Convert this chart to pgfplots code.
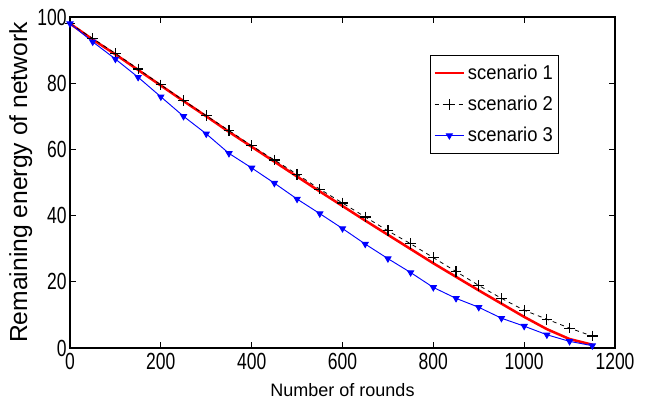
\documentclass[border=0pt]{standalone}
\usepackage{pgfplots}
\pgfplotsset{compat=1.18}
\usepackage{fontspec}
\setmainfont{Liberation Sans}
\newfontfamily\narrowfont{Liberation Sans}[FakeStretch=0.75]
\newfontfamily\legfont{Liberation Sans}[FakeStretch=0.92]
\pgfplotstableread{
x s1 s2 s3
0 98 98 98
50 93.2 93.5 92.5
100 88.7 89 87.3
150 84 84.3 81.8
200 79.3 79.5 75.9
250 74.6 74.8 70
300 70 70.2 64.7
350 65.3 65.7 58.8
400 60.8 61.1 54.4
450 56.3 56.8 49.8
500 51.8 52.5 45
550 47.3 48 40.6
600 42.9 43.8 36.1
650 38.5 39.6 31.4
700 34.2 35.4 27
750 29.9 31.5 22.8
800 25.6 27.3 18.3
850 21.5 23.1 15
900 17.4 18.9 12.3
950 13.4 15 9
1000 9.4 11.4 6.6
1050 5.7 8.7 4
1100 2.7 6 2
1150 1.0 3.6 0.7
}\datatable
\begin{document}
\begin{tikzpicture}[x=1pt,y=1pt]
\begin{axis}[
  name=ax,
  at={(0,0)}, anchor=south west,
  scale only axis,
  width=408.75pt, height=248.25pt,
  xmin=0, xmax=1200, ymin=0, ymax=100,
  xtick={0,200,...,1200}, ytick={0,20,...,100},
  tick align=inside,
  major tick length=4.5pt,
  axis line style={line width=0.8pt},
  every tick/.style={line width=0.6pt, black},
  tick label style={font=\narrowfont\fontsize{17.5}{17.5}\selectfont},
  /pgf/number format/assume math mode=true,
  /pgf/number format/1000 sep={},
  xticklabel style={yshift=0pt},
  yticklabel style={xshift=1pt},
  xlabel={Number of rounds},
  xlabel style={font=\fontsize{13.5}{13.5}\selectfont, yshift=-4pt},
  ylabel={Remaining energy of network},
  ylabel style={font=\fontsize{18.5}{18.5}\selectfont, yshift=-3pt},
  legend style={at={(0.661,0.885)}, anchor=north west,
    font=\legfont\fontsize{15}{15}\selectfont,
    draw=black, line width=0.8pt, inner xsep=2pt, inner ysep=5pt,
    row sep=7pt,
    legend cell align=left},
  legend image code/.code={\draw[mark repeat=2,mark phase=2,#1] plot coordinates {(0pt,0pt) (11pt,0pt) (22pt,0pt)};},
]
\addplot[red, line width=1.9pt] table[x=x,y=s1] {\datatable};
\addlegendentry{scenario 1}
\addplot[black, dashed, line width=0.6pt, mark=+, mark size=4pt, mark options={solid, line width=0.9pt}] table[x=x,y=s2] {\datatable};
\addlegendentry{scenario 2}
\addplot[blue, line width=0.7pt, mark=triangle*, mark size=2.6pt, mark options={solid, rotate=180, fill=blue}] table[x=x,y=s3] {\datatable};
\addlegendentry{scenario 3}
\end{axis}
\pgfresetboundingbox
\path[use as bounding box] (ax.south west) ++(-52.5pt,-41.25pt) rectangle ++(489.75pt,302.25pt);
\end{tikzpicture}
\end{document}
